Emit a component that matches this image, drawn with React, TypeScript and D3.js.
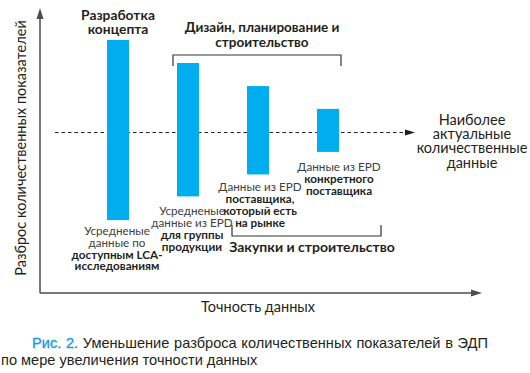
import React from "react";
import * as d3 from "d3";

const categories = ["LCA", "EPD-группа", "EPD-рынок", "EPD-поставщик"];
const spreadLow = [25.6, 33.9, 41.6, 49.5];
const spreadHigh = [88.8, 80.7, 72.6, 64.6];
const targetValue = 56.3;

type Line = { t: string; b: boolean };
const barLabels: Line[][] = [
  [
    { t: "Усредненые", b: false },
    { t: "данные по", b: false },
    { t: "доступным LCA-", b: true },
    { t: "исследованиям", b: true },
  ],
  [
    { t: "Усредненые", b: false },
    { t: "данные из EPD", b: false },
    { t: "для группы", b: true },
    { t: "продукции", b: true },
  ],
  [
    { t: "Данные из EPD", b: false },
    { t: "поставщика,", b: true },
    { t: "который есть", b: true },
    { t: "на рынке", b: true },
  ],
  [
    { t: "Данные из EPD", b: false },
    { t: "конкретного", b: true },
    { t: "поставщика", b: true },
  ],
];
const topLabel = ["Разработка", "концепта"];
const designLabel = ["Дизайн, планирование и", "строительство"];
const procurementLabel = "Закупки и строительство";
const targetLabel = ["Наиболее", "актуальные", "количественные", "данные"];
const yTitle = "Разброс количественных показателей";
const xTitle = "Точность данных";
const captionHead = ["Рис.", "2."];
const captionLine1 = ["Уменьшение", "разброса", "количественных", "показателей", "в", "ЭДП"];
const captionLine2 = "по мере увеличения точности данных";

const W = 530;
const H = 373;
const FONT = "Lato, 'Open Sans', sans-serif";
const CAP_FONT = "'Liberation Sans', Arial, sans-serif";
const CAP_SIZE = 14.6;
const TXT = "#231f20";
const AX = "#4d4d4d";
const BLUE = "#1a9bd7";
const BAR = "#00aeef";

function measure(words: string[], size: number, family: string): number[] {
  const cv = document.createElement("canvas");
  const ctx = cv.getContext("2d");
  if (!ctx) return words.map((w) => w.length * size * 0.55);
  ctx.font = `${size}px ${family}`;
  return words.map((w) => ctx.measureText(w).width);
}

export default function App() {
  const y = d3.scaleLinear().domain([0, 100]).range([293, 8]);
  const x = d3.scalePoint<string>().domain(categories).range([118, 328]);
  const bw = 22;
  const labelDx = [-1, 4, 2, 11];
  const labelGap = [15, 19, 17, 19];
  const lh = 11.8;

  const ty = y(targetValue);
  const x0 = x(categories[0])!;
  const x3 = x(categories[3])!;
  const x1 = x(categories[1])!;
  const x2 = x(categories[2])!;

  // justified first caption line
  const capWords = [...captionHead, ...captionLine1];
  const widths = measure(capWords, CAP_SIZE, CAP_FONT);
  const capStart = 32;
  const capEnd = 488;
  const total = widths.reduce((a, b) => a + b, 0);
  const gap = (capEnd - capStart - total) / (capWords.length - 1);
  const capX: number[] = [];
  let cx = capStart;
  widths.forEach((w) => {
    capX.push(cx);
    cx += w + gap;
  });

  return (
    <svg
      width={W}
      height={H}
      style={{ position: "absolute", left: 0, top: 0, background: "#fff" }}
      fontFamily={FONT}
    >
      {/* axes */}
      <line x1={40} y1={17} x2={40} y2={293} stroke={AX} strokeWidth={1.5} />
      <path d="M40,8 L36.5,19 L43.5,19 Z" fill={AX} />
      <line x1={40} y1={293} x2={472} y2={293} stroke={AX} strokeWidth={1.5} />
      <path d="M482,293 L471,289.5 L471,296.5 Z" fill={AX} />

      {/* dashed target line */}
      <line
        x1={55}
        y1={ty}
        x2={406}
        y2={ty}
        stroke={TXT}
        strokeWidth={1}
        strokeDasharray="3.5,3"
      />
      <path d={`M415,${ty} L405,${ty - 3} L405,${ty + 3} Z`} fill={TXT} />

      {/* bars */}
      {categories.map((c, i) => (
        <rect
          key={c}
          x={x(c)! - bw / 2}
          y={y(spreadHigh[i])}
          width={bw}
          height={y(spreadLow[i]) - y(spreadHigh[i])}
          fill={BAR}
        />
      ))}

      {/* bar labels */}
      {categories.map((c, i) => (
        <text key={c} textAnchor="middle" fontSize={11.7} fill={TXT}>
          {barLabels[i].map((l, j) => (
            <tspan
              key={j}
              x={x(c)! + labelDx[i]}
              y={y(spreadLow[i]) + labelGap[i] + j * lh}
              fontWeight={l.b ? 700 : 400}
              fill={l.b ? TXT : "#404040"}
            >
              {l.t}
            </tspan>
          ))}
        </text>
      ))}

      {/* top label */}
      <text textAnchor="middle" fontSize={13.8} fontWeight={700} fill={TXT}>
        {topLabel.map((t, j) => (
          <tspan key={j} x={x0} y={20 + j * 14}>
            {t}
          </tspan>
        ))}
      </text>

      {/* design bracket */}
      <path
        d={`M${x1 - 15},66 L${x1 - 15},55 L${x3 + 13},55 L${x3 + 13},66`}
        fill="none"
        stroke="#333"
        strokeWidth={1.2}
      />
      <text textAnchor="middle" fontSize={13.5} fontWeight={700} fill={TXT}>
        {designLabel.map((t, j) => (
          <tspan key={j} x={262} y={32 + j * 14.5}>
            {t}
          </tspan>
        ))}
      </text>

      {/* procurement bracket */}
      <path
        d={`M${x2 - 26},225 L${x2 - 26},236 L${x3 + 53},236 L${x3 + 53},225`}
        fill="none"
        stroke="#333"
        strokeWidth={1.2}
      />
      <text x={312} y={252} textAnchor="middle" fontSize={14} fontWeight={700} fill={TXT}>
        {procurementLabel}
      </text>

      {/* target label */}
      <text textAnchor="middle" fontSize={14.5} fill={TXT}>
        {targetLabel.map((t, j) => (
          <tspan key={j} x={472} y={125 + j * 14.2}>
            {t}
          </tspan>
        ))}
      </text>

      {/* axis titles */}
      <text
        transform="translate(26,148) rotate(-90)"
        textAnchor="middle"
        fontSize={14.5}
        fill={TXT}
      >
        {yTitle}
      </text>
      <text x={258} y={312} textAnchor="middle" fontSize={14.5} fill={TXT}>
        {xTitle}
      </text>

      {/* caption */}
      <g fontFamily={CAP_FONT} fontSize={CAP_SIZE}>
        {capWords.map((w, i) => (
          <text
            key={i}
            x={capX[i]}
            y={348}
            fill={i < captionHead.length ? BLUE : TXT}
            stroke={i < captionHead.length ? BLUE : "none"}
            strokeWidth={i < captionHead.length ? 0.35 : 0}
          >
            {w}
          </text>
        ))}
        <text x={1} y={365} fill={TXT}>
          {captionLine2}
        </text>
      </g>
    </svg>
  );
}
